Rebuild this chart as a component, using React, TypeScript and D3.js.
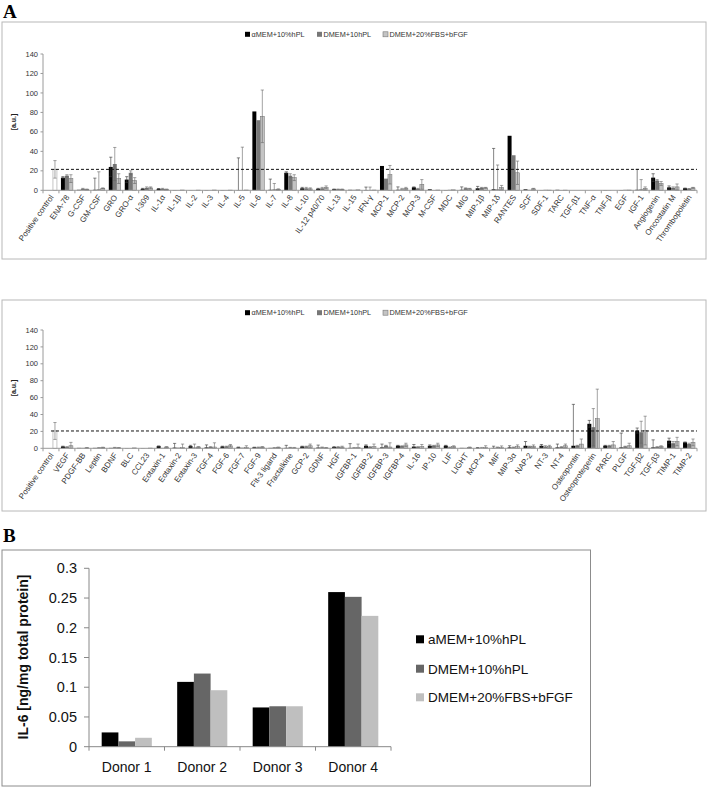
import React from 'react';
import * as d3 from 'd3';

// ---- data ----
const arraySeries = ['αMEM+10%hPL', 'DMEM+10hPL', 'DMEM+20%FBS+bFGF'];

const cytokines1 = ['Positive control', 'ENA-78', 'G-CSF', 'GM-CSF', 'GRO', 'GRO-α', 'I-309', 'IL-1α', 'IL-1β', 'IL-2',
  'IL-3', 'IL-4', 'IL-5', 'IL-6', 'IL-7', 'IL-8', 'IL-10', 'IL-12 p40/70', 'IL-13', 'IL-15', 'IFN-γ', 'MCP-1', 'MCP-2',
  'MCP-3', 'M-CSF', 'MDC', 'MIG', 'MIP-1β', 'MIP-1δ', 'RANTES', 'SCF', 'SDF-1', 'TARC', 'TGF-β1', 'TNF-α', 'TNF-β', 'EGF',
  'IGF-1', 'Angiogenin', 'Oncostatin M', 'Thrombopoietin'];
const c1Mem = [0, 13, 0.5, 0.5, 24, 11, 1.5, 1.5, 0.3, 0.2, 0.3, 0.3, 0.3, 81, 0.5, 18, 2, 1.5, 1, 0.5, 0.3, 25, 0.5, 3, 1, 0.3, 0.5, 2, 1, 56, 1, 0.2, 0.5, 0, 0, 0.3, 0.3, 0.5, 13, 3, 2];
const c1Dmem = [0, 15, 1.5, 1, 27, 18, 2.5, 1.5, 0.3, 0.2, 0.2, 0.3, 0.3, 72, 1, 15, 2, 2, 1, 0.5, 0.3, 12, 1, 1.5, 0.3, 0.5, 2, 2.5, 1, 36, 0.5, 0.5, 0.3, 0, 0, 0.3, 0.5, 1, 10, 2.5, 1.5];
const c1Fbs = [21.5, 12, 1, 2, 12, 10, 2.5, 1, 0.3, 0.2, 0.3, 0.2, 0.3, 76, 1, 13, 1.5, 3, 1, 0.5, 0.3, 16, 2, 6, 0.3, 0.5, 1.5, 2.5, 3, 18, 1.5, 0.2, 0.2, 0, 0, 0, 0.3, 2, 7, 3.5, 2.5];
const c1MemErr = [0, 1, 0, 12, 10, 3, 0.5, 0.3, 0, 0, 0, 0, 33, 0, 11, 1, 1, 0.5, 0.3, 0, 3, 0, 3, 0.5, 0, 0, 3, 2, 42, 0, 0, 0, 0, 0, 0, 0, 0, 21, 4, 1.5, 0.3];
const c1DmemErr = [0, 1, 0.5, 18, 17, 2, 1, 0.5, 0, 0, 0, 0, 44, 0, 6, 2, 1, 1, 0.3, 0, 3, 0, 1, 0.5, 0, 0, 0.5, 0.5, 25, 0, 0, 0, 0, 0, 0, 0, 0, 10, 1, 1, 0.3];
const c1FbsErr = [9, 4, 0.3, 0.5, 5, 3, 1, 0.3, 0, 0, 0, 0, 0, 27, 0.5, 3, 1, 1.5, 0.3, 0, 0, 9.5, 1, 5, 0, 0, 0.5, 0.5, 2, 12, 0.5, 0, 0, 0, 0, 0, 0, 1.5, 2, 3, 0.5];

const cytokines2 = ['Positive control', 'VEGF', 'PDGF-BB', 'Leptin', 'BDNF', 'BLC', 'CCL23', 'Eotaxin-1', 'Eotaxin-2',
  'Eotaxin-3', 'FGF-4', 'FGF-6', 'FGF-7', 'FGF-9', 'Flt-3 ligand', 'Fractalkine', 'GCP-2', 'GDNF', 'HGF', 'IGFBP-1',
  'IGFBP-2', 'IGFBP-3', 'IGFBP-4', 'IL-16', 'IP-10', 'LIF', 'LIGHT', 'MCP-4', 'MIF', 'MIP-3α', 'NAP-2', 'NT-3', 'NT-4',
  'Osteopontin', 'Osteoprotegerin', 'PARC', 'PLGF', 'TGF-β2', 'TGF-β3', 'TIMP-1', 'TIMP-2'];
const c2Mem = [0, 2, 0.5, 0.5, 0.5, 0.3, 0.3, 2.5, 0.8, 2.5, 1, 2, 1, 1, 0.5, 0.5, 2, 0.8, 1.5, 0.5, 3, 1, 3, 2, 3, 3, 0.5, 0.5, 0.5, 1, 3, 3, 1, 3, 29, 3, 1, 21, 1, 9, 7];
const c2Dmem = [0, 1.5, 0.5, 0.5, 0.8, 0.3, 0.3, 0.5, 0.8, 1, 1.5, 2, 0.8, 1, 0.5, 0.8, 2, 1, 1.5, 0.5, 1.5, 3, 2.5, 1.5, 3, 1, 0.5, 0.5, 1, 1, 2, 2, 1.5, 3, 25, 3, 2, 19, 1.5, 6, 5];
const c2Fbs = [20.5, 3, 0.5, 0.8, 0.5, 0.5, 0.3, 1.5, 1, 1.5, 1.5, 3, 1, 1.5, 1, 0.5, 3, 0.5, 1.5, 1, 2, 1.5, 4, 2, 4, 2, 1, 1, 0.8, 2, 2.5, 2, 3, 5, 35, 4, 3, 21, 2, 8, 7];
const c2MemErr = [0, 0.5, 0, 0, 0, 0, 0, 0.3, 5, 1, 3, 0.5, 0.5, 0.3, 0, 3, 0.5, 3, 0.5, 5, 1, 4, 0.5, 2.5, 1, 0.5, 0, 0.3, 2, 2, 5, 1.5, 4, 49, 4, 0.5, 17, 3, 9, 3, 0.5];
const c2DmemErr = [0, 0.5, 0, 0.3, 0.3, 0, 0, 0, 0, 4, 0.5, 0.5, 0, 0.5, 0.3, 0.3, 0.5, 0.5, 0.5, 0.3, 0.5, 0.5, 0.5, 0.5, 0.5, 0.5, 0, 0.5, 0.5, 0.5, 0.5, 1, 0.5, 0.5, 22, 0.5, 0.5, 13, 0.5, 2, 1];
const c2FbsErr = [10, 4, 0.3, 0.5, 0.3, 0, 0, 0.5, 4, 0.5, 5, 1.5, 2, 0.5, 0.5, 0.5, 2, 0.3, 1, 4, 3, 5, 2, 2.5, 2, 1, 0.5, 2, 2, 2, 1.5, 1.5, 2, 6, 35, 4, 3, 17, 1, 5, 4];

const yTicksArray = [0, 20, 40, 60, 80, 100, 120, 140];

const donors = ['Donor 1', 'Donor 2', 'Donor 3', 'Donor 4'];
const il6Series = ['aMEM+10%hPL', 'DMEM+10%hPL', 'DMEM+20%FBS+bFGF'];
const il6Mem = [0.024, 0.109, 0.066, 0.26];
const il6Dmem = [0.009, 0.123, 0.068, 0.252];
const il6Fbs = [0.015, 0.095, 0.068, 0.22];
const il6Ticks = [0, 0.05, 0.1, 0.15, 0.2, 0.25, 0.3];

// ---- styles ----
const FONT = "'Liberation Sans', Arial, sans-serif";
const arrFill = ['#000000', '#777777', '#c4c4c4'];
const il6Fill = ['#000000', '#666666', '#bfbfbf'];
const AXIS = '#9a9a9a';

function ArrayChart({ boxY, boxH, y0, yTop, legendY, labelY, cats, vals, errs }) {
  const x = d3.scaleBand().domain(cats).range([43, 697]);
  const bw = x.bandwidth();
  const inner = d3.scaleBand().domain(['0', '1', '2']).range([2, bw - 2]);
  const y = d3.scaleLinear().domain([0, 140]).range([y0, yTop]);
  const ctrl = vals[2][0];
  const legendX = [245, 317, 383];

  return (
    <g>
      <rect x={2} y={boxY} width={704} height={boxH} fill="#fff" stroke="#b8b8b8" strokeWidth={1} />
      {/* legend */}
      {arraySeries.map((s, k) => (
        <g key={s}>
          <rect x={legendX[k]} y={legendY - 2.5} width={5} height={5} fill={arrFill[k]}
            stroke={k === 2 ? '#777' : 'none'} strokeWidth={0.6} />
          <text x={legendX[k] + 6.5} y={legendY + 2.6} fontSize={7.3} fill="#333" fontFamily={FONT}>{s}</text>
        </g>
      ))}
      {/* y axis */}
      <line x1={43} x2={43} y1={y(0)} y2={y(140)} stroke={AXIS} />
      {yTicksArray.map(t => (
        <g key={t}>
          <line x1={40.5} x2={43} y1={y(t)} y2={y(t)} stroke={AXIS} />
          <text x={38} y={y(t) + 2.6} fontSize={7.5} textAnchor="end" fill="#333" fontFamily={FONT}>{t}</text>
        </g>
      ))}
      <text transform={`translate(16,${labelY}) rotate(-90)`} fontSize={7} fontWeight="bold" textAnchor="middle"
        fill="#222" fontFamily={FONT}>[a.u.]</text>
      {/* bars */}
      {cats.map((c, i) => (
        <g key={c}>
          {[0, 1, 2].map(k => {
            const v = vals[k][i];
            const bx = x(c) + inner(String(k));
            const isCtrl = i === 0 && k === 2;
            return (
              <rect key={k} x={bx} y={y(v)} width={inner.bandwidth()} height={y(0) - y(v)}
                fill={isCtrl ? '#fff' : arrFill[k]}
                stroke={k === 2 ? (isCtrl ? '#8a8a8a' : '#6a6a6a') : 'none'} strokeWidth={0.5} />
            );
          })}
        </g>
      ))}
      {/* error bars (±) */}
      {cats.map((c, i) => (
        <g key={c + 'e'}>
          {[0, 1, 2].map(k => {
            const v = vals[k][i];
            const e = errs[k][i];
            if (!e) return null;
            const cx = x(c) + inner(String(k)) + inner.bandwidth() / 2;
            const lo = Math.max(0, v - e);
            const col = k === 0 ? '#333' : '#666';
            return (
              <g key={k} stroke={col} strokeWidth={0.6}>
                <line x1={cx} x2={cx} y1={y(lo)} y2={y(v + e)} />
                <line x1={cx - 1.6} x2={cx + 1.6} y1={y(v + e)} y2={y(v + e)} />
                {v - e > 0 && <line x1={cx - 1.6} x2={cx + 1.6} y1={y(lo)} y2={y(lo)} />}
              </g>
            );
          })}
        </g>
      ))}
      {/* positive-control reference */}
      <line x1={x(cats[0]) + bw / 2} x2={697} y1={y(ctrl)} y2={y(ctrl)} stroke="#111" strokeWidth={1}
        strokeDasharray="3,2" />
      {/* x axis */}
      <line x1={43} x2={697} y1={y(0)} y2={y(0)} stroke={AXIS} />
      {cats.map(c => (
        <line key={c + 't'} x1={x(c) + bw} x2={x(c) + bw} y1={y(0)} y2={y(0) + 3} stroke={AXIS} />
      ))}
      <line x1={43} x2={43} y1={y(0)} y2={y(0) + 3} stroke={AXIS} />
      {cats.map(c => (
        <text key={c + 'l'} transform={`translate(${x(c) + bw / 2 + 3},${y(0) + 7}) rotate(-55)`}
          fontSize={8} textAnchor="end" fill="#333" fontFamily={FONT}>{c}</text>
      ))}
    </g>
  );
}

function Il6Chart() {
  const x = d3.scaleBand().domain(donors).range([89, 391]);
  const bw = x.bandwidth();
  const inner = d3.scaleBand().domain(['0', '1', '2']).range([bw * 0.168, bw * 0.832]);
  const y = d3.scaleLinear().domain([0, 0.3]).range([746.7, 568.3]);
  const vals = [il6Mem, il6Dmem, il6Fbs];
  const legendRows = [639.3, 668.7, 697.3];
  const fmt = (t: number) => String(+t.toFixed(2));

  return (
    <g>
      <rect x={2} y={550} width={588.5} height={236} fill="#fff" stroke="#8c8c8c" strokeWidth={1} />
      {donors.map((d, i) => [0, 1, 2].map(k => (
        <rect key={d + k} x={x(d) + inner(String(k))} y={y(vals[k][i])} width={inner.bandwidth()}
          height={y(0) - y(vals[k][i])} fill={il6Fill[k]} />
      )))}
      <line x1={89} x2={89} y1={y(0)} y2={y(0.3)} stroke="#888" />
      {il6Ticks.map(t => (
        <g key={t}>
          <line x1={84} x2={89} y1={y(t)} y2={y(t)} stroke="#888" />
          <text x={77} y={y(t) + 5} fontSize={14.5} textAnchor="end" fill="#111" fontFamily={FONT}>{fmt(t)}</text>
        </g>
      ))}
      <line x1={89} x2={391} y1={y(0)} y2={y(0)} stroke="#888" />
      {[...donors.map(d => x(d)), 391].map((p, i) => (
        <line key={i} x1={p} x2={p} y1={y(0)} y2={y(0) + 4} stroke="#888" />
      ))}
      {donors.map(d => (
        <text key={d} x={x(d) + bw / 2} y={772} fontSize={14} textAnchor="middle" fill="#111"
          fontFamily={FONT}>{d}</text>
      ))}
      <text transform="translate(28,657) rotate(-90)" fontSize={14} fontWeight="bold" textAnchor="middle"
        fill="#111" fontFamily={FONT}>IL-6 [ng/mg total protein]</text>
      {il6Series.map((s, k) => (
        <g key={s}>
          <rect x={416} y={legendRows[k] - 4} width={8} height={8} fill={il6Fill[k]} />
          <text x={428} y={legendRows[k] + 5} fontSize={13.5} fill="#111" fontFamily={FONT}>{s}</text>
        </g>
      ))}
    </g>
  );
}

export default function App() {
  return (
    <svg width={708} height={787} style={{ position: 'absolute', left: 0, top: 0, background: '#fff' }}>
      <rect width={708} height={787} fill="#fff" />
      <text x={3} y={18} fontSize={19} fontWeight="bold" fontFamily="'Liberation Serif', serif">A</text>
      <ArrayChart boxY={22} boxH={237} y0={190.3} yTop={54} legendY={34.3} labelY={122}
        cats={cytokines1} vals={[c1Mem, c1Dmem, c1Fbs]} errs={[c1MemErr, c1DmemErr, c1FbsErr]} />
      <ArrayChart boxY={300} boxH={211} y0={448.3} yTop={330} legendY={312.7} labelY={388}
        cats={cytokines2} vals={[c2Mem, c2Dmem, c2Fbs]} errs={[c2MemErr, c2DmemErr, c2FbsErr]} />
      <text x={3} y={542} fontSize={19} fontWeight="bold" fontFamily="'Liberation Serif', serif">B</text>
      <Il6Chart />
    </svg>
  );
}
